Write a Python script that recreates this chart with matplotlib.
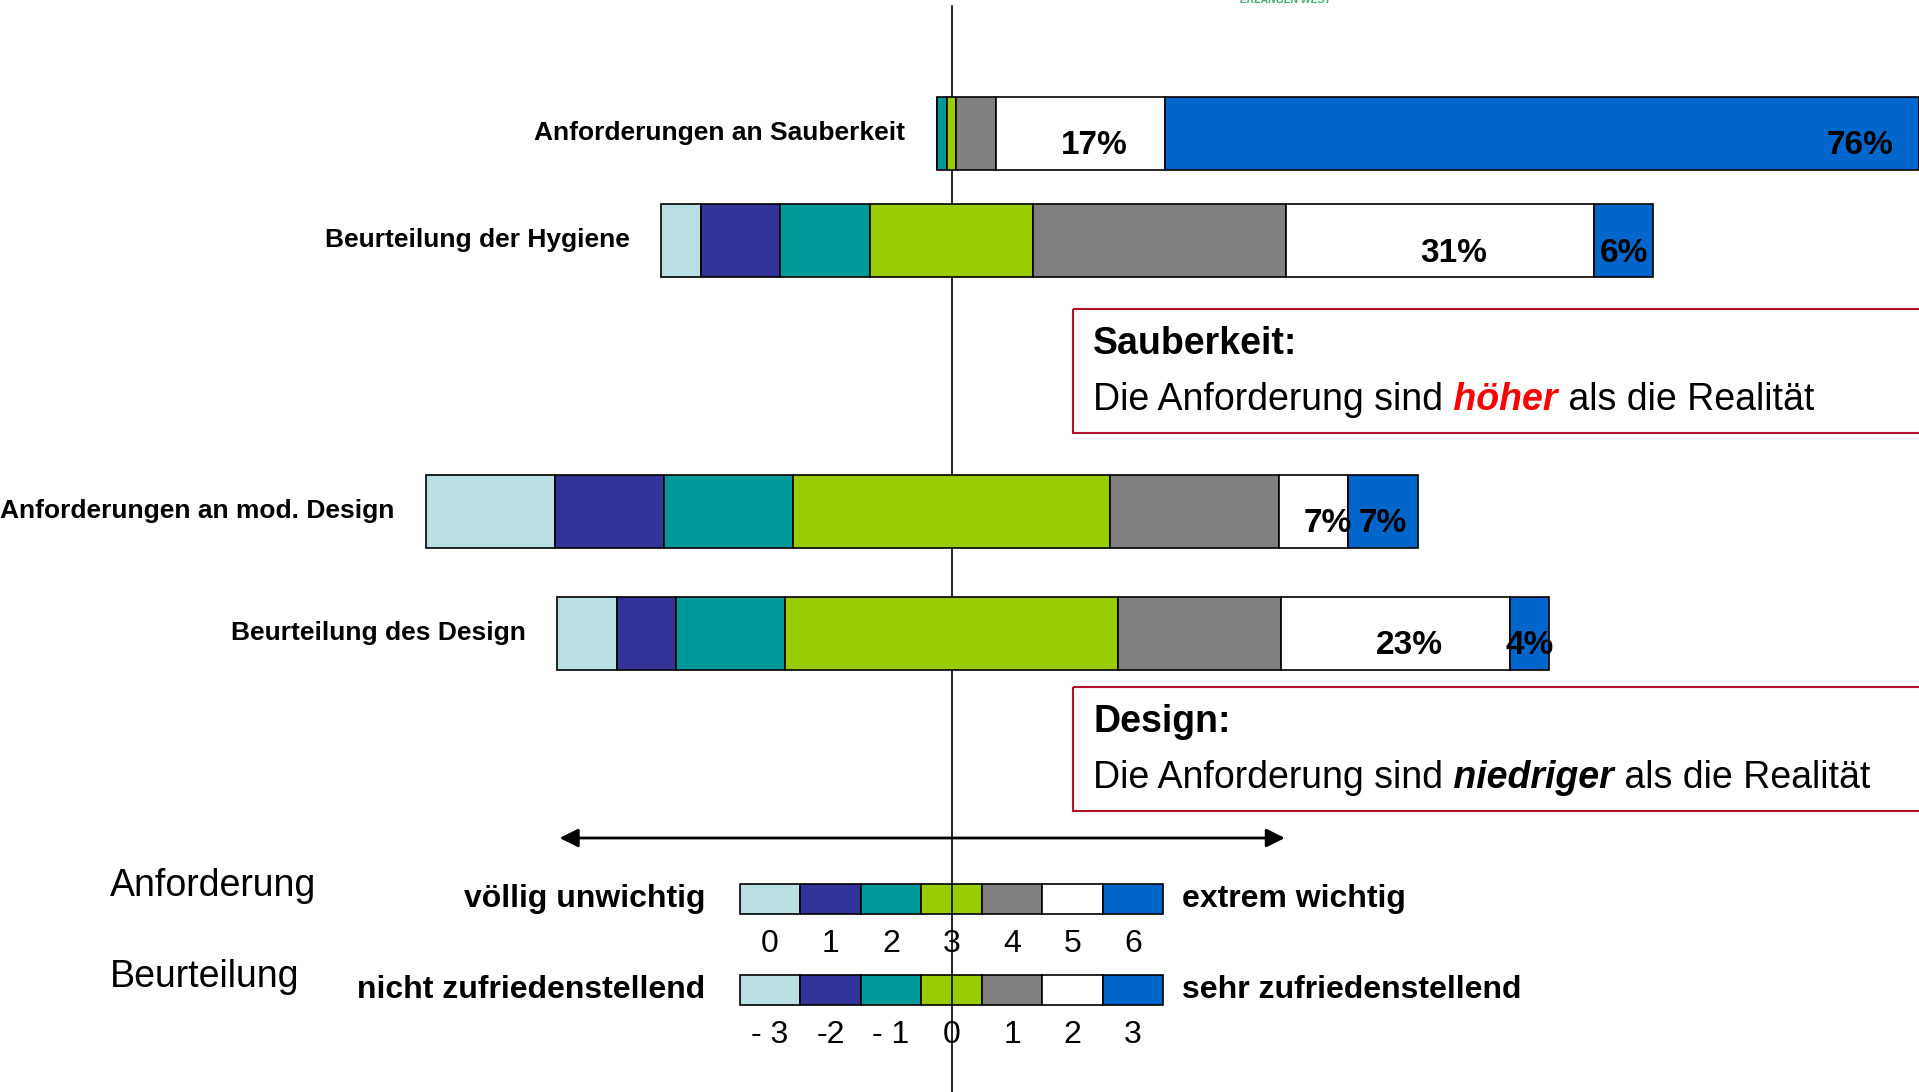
import numpy as np
import matplotlib.pyplot as plt
from matplotlib.patches import Rectangle

plt.rcParams['font.family'] = ['Liberation Sans', 'DejaVu Sans']

# answer categories, from "not at all" to "very much"
colors = ['#BBE0E3', '#333399', '#009999', '#99CC00', '#808080', '#FFFFFF', '#0066CC']

# rows of the chart, top to bottom
items = ['Anforderungen an Sauberkeit', 'Beurteilung der Hygiene',
         'Anforderungen an mod. Design', 'Beurteilung des Design']
# share of answers per category in %
sauberkeit_anf = [0, 0, 1, 1, 4, 17, 76]
hygiene_beurt = [4, 8, 9, 16.5, 25.5, 31, 6]
design_anf = [13, 11, 13, 32, 17, 7, 7]
design_beurt = [6, 6, 11, 33.5, 16.5, 23, 4]
shares = [sauberkeit_anf, hygiene_beurt, design_anf, design_beurt]
# categories that get a value label
labelled = [5, 6]

scale_anf = ['0', '1', '2', '3', '4', '5', '6']
scale_beurt = ['- 3', '-2', '- 1', '0', '1', '2', '3']

# layout: x in % (0 = middle of the neutral answer), y in pixels from the top
W, H = 1919, 1092
PX = 9.92          # pixels per percent
X0 = 951.5         # pixel column of the zero line
row_y = [133, 240, 511, 633]
bar_h = 73
cell_w = 6.1       # width of one legend cell in %
label_shift = {5: 1.4, 6: 0.0}   # small sideways nudge of value labels

fig = plt.figure(figsize=(W / 100, H / 100), dpi=100)
ax = fig.add_axes([0, 0, 1, 1])
ax.set_xlim(-X0 / PX, (W - X0) / PX)
ax.set_ylim(H, 0)
ax.axis('off')
xmax = (W - X0) / PX

# zero line
ax.plot([0, 0], [6, H], color='black', lw=1.2, zorder=2)

# stacked bars, centred on the neutral category
for name, vals, y in zip(items, shares, row_y):
    vals = np.array(vals, dtype=float)
    start = -(vals[:3].sum() + vals[3] / 2)
    lefts = start + np.concatenate([[0], np.cumsum(vals)[:-1]])
    ax.barh([y] * len(vals), vals, left=lefts, height=bar_h, color=colors,
            edgecolor='black', lw=1.2, zorder=3)
    ax.text(start - 3.2, y, name, ha='right', va='center',
            fontsize=19, fontweight='bold')
    for k in labelled:
        end = lefts[k] + vals[k]
        if end > xmax - 2:
            x, ha = xmax - 2.6, 'right'
        else:
            x, ha = lefts[k] + vals[k] / 2 + label_shift[k], 'center'
        ax.text(x, y + 13, f'{vals[k]:g}%', ha=ha, va='center',
                fontsize=24, fontweight='bold', zorder=4)


# comment boxes with a highlighted word
def note_box(y_top, title, pre, word, post, word_color):
    ax.add_patch(Rectangle((12.2, y_top), 200, 124, fill=False,
                           edgecolor='#B0122E', lw=1.5, zorder=4))
    ax.text(14.3, y_top + 35, title, ha='left', va='center',
            fontsize=27, fontweight='bold')
    t = ax.text(14.3, y_top + 91, pre, ha='left', va='center', fontsize=27)
    t = ax.annotate(' ' + word, xycoords=t, xy=(1, 0), va='bottom',
                    fontsize=27, fontweight='bold', fontstyle='italic',
                    color=word_color)
    ax.annotate(' ' + post, xycoords=t, xy=(1, 0), va='bottom', fontsize=27)


note_box(309, 'Sauberkeit:', 'Die Anforderung sind', 'höher',
         'als die Realität', '#FF0000')
note_box(687, 'Design:', 'Die Anforderung sind', 'niedriger',
         'als die Realität', 'black')

# double arrow across the scale
ax.annotate('', xy=(33.6, 838), xytext=(-39.5, 838),
            arrowprops=dict(arrowstyle='<|-|>', color='black', lw=2,
                            mutation_scale=28, shrinkA=0, shrinkB=0))

# legend: colour scale for both question types
legend_rows = [
    ('Anforderung', 'völlig unwichtig', 'extrem wichtig', scale_anf, 899, 944),
    ('Beurteilung', 'nicht zufriedenstellend', 'sehr zufriedenstellend',
     scale_beurt, 990, 1035),
]
for title, low, high, ticks, yc, yt in legend_rows:
    for k, c in enumerate(colors):
        ax.add_patch(Rectangle(((k - 3.5) * cell_w, yc - 15), cell_w, 30,
                               facecolor=c, edgecolor='black', lw=1.2, zorder=1))
        ax.text((k - 3) * cell_w, yt, ticks[k], ha='center', va='center',
                fontsize=23)
    ax.text(-84.8, yc - 13, title, ha='left', va='center', fontsize=27)
    ax.text(-24.8, yc, low, ha='right', va='center', fontsize=23,
            fontweight='bold')
    ax.text(23.2, yc, high, ha='left', va='center', fontsize=23,
            fontweight='bold')

# logo text at the top edge
ax.text(29.1, 5, 'ERLANGEN WEST', ha='left', va='bottom', fontsize=7.5,
        fontweight='bold', fontstyle='italic', color='#3DB06E')

fig.savefig('out.png', dpi=100)
